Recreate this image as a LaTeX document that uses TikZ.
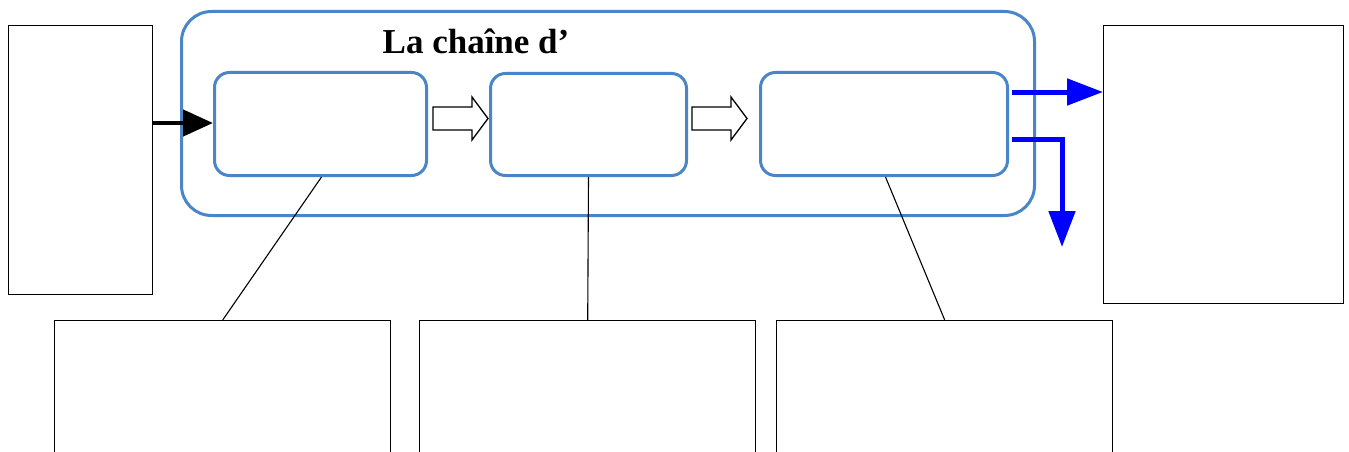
\documentclass[tikz,border=0pt]{standalone}
\usepackage{fontspec}
\setmainfont{Liberation Serif}
\usetikzlibrary{arrows.meta}
\definecolor{frameblue}{RGB}{74,134,199}
\definecolor{flowblue}{RGB}{0,0,255}
\tikzset{
  plainbox/.style={draw=black, line width=1.4pt, fill=white, inner sep=0pt, anchor=north west},
  stagebox/.style={draw=frameblue, line width=3pt, rounded corners=15pt, inner sep=0pt, anchor=north west},
  chainframe/.style={draw=frameblue, line width=3pt, rounded corners=30pt, inner sep=0pt, anchor=north west},
  link/.style={draw=black, line width=1.1pt},
  blockarrow/.style={draw=black, line width=1.3pt, fill=white, line join=miter},
  inflow/.style={line width=4.5pt, -{Triangle[length=30pt,width=26pt]}},
  outflow/.style={draw=flowblue, line width=5pt, -{Triangle[length=36pt,width=26pt]}}
}
\begin{document}
\begin{tikzpicture}[x=1pt,y=-1pt]
  \useasboundingbox (0,0) rectangle (1349,452);
  \fill[white] (0,0) rectangle (1349,452);

  % outer container of the chain
  \node[chainframe, minimum width=853pt, minimum height=204pt] (chain) at (180,10) {};
  \node[font=\bfseries\fontsize{35}{40}\selectfont, anchor=base] (title) at (476,54) {La chaîne d’};

  % side boxes
  \node[plainbox, minimum width=144pt, minimum height=269pt] (left) at (8,25) {};
  \node[plainbox, minimum width=240pt, minimum height=278pt] (right) at (1103,25) {};

  % the three stages
  \node[stagebox, minimum width=212pt, minimum height=103pt] (s1) at (213,71) {};
  \node[stagebox, minimum width=196pt, minimum height=102pt] (s2) at (489,72) {};
  \node[stagebox, minimum width=247pt, minimum height=103pt] (s3) at (759,71) {};

  % lower boxes, running past the bottom edge
  \node[plainbox, minimum width=336pt, minimum height=160pt] (b1) at (54,320) {};
  \node[plainbox, minimum width=336pt, minimum height=160pt] (b2) at (419,320) {};
  \node[plainbox, minimum width=336pt, minimum height=160pt] (b3) at (776,320) {};

  % links from stages to lower boxes
  \draw[link] ([xshift=1pt]s1.south) -- (b1.north);
  \draw[link] (s2.south) -- (b2.north);
  \draw[link] ([xshift=1.5pt]s3.south) -- (b3.north);

  % input arrow
  \draw[inflow] (left.east |- 0,123) -- (s1.west |- 0,123);

  % hollow block arrows between stages
  \draw[blockarrow] (433,107) -- (472,107) -- (472,97) -- (488,118.5) -- (472,140) -- (472,130) -- (433,130) -- cycle;
  \draw[blockarrow] (692,107) -- (731,107) -- (731,97) -- (747,118.5) -- (731,140) -- (731,130) -- (692,130) -- cycle;

  % output arrows
  \coordinate (turn) at (1062,139);
  \coordinate (down) at (1062,247);
  \draw[outflow] (1012,92) -- (right.west |- 0,92);
  \draw[outflow, line join=miter] (1012,139) -- (turn) -- (down);
\end{tikzpicture}
\end{document}
